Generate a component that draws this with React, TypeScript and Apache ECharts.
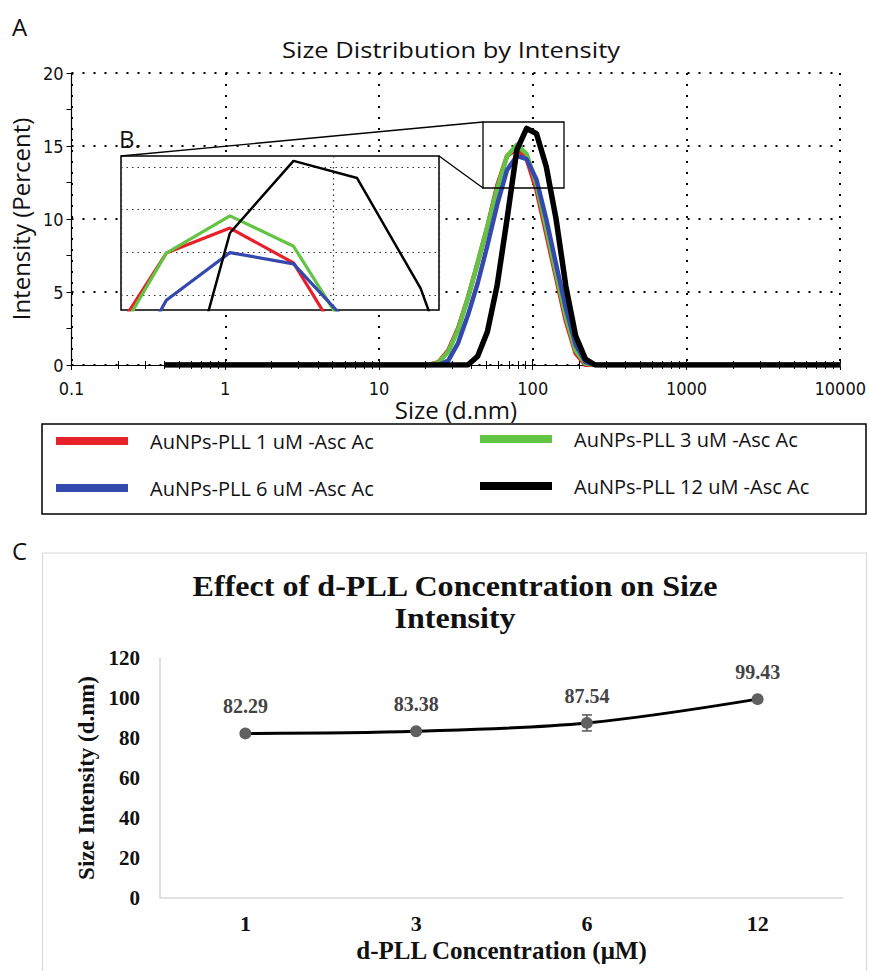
import React, { useEffect, useRef } from "react";
import * as echarts from "echarts";

// ---- Panel A: DLS size distribution (Zetasizer size bins, d.nm) ----
const sizes = [0.4, 21.04, 24.36, 28.21, 32.67, 37.84, 43.82, 50.75, 58.77, 68.06, 78.82, 91.28, 105.7, 122.4, 141.8, 164.2, 190.1, 220.2, 255.0, 295.3, 10000];
const pll1 = [0, 0, 0.2, 1.0, 2.5, 4.6, 7.0, 9.5, 12.3, 14.32, 14.83, 14.12, 12.0, 9.0, 6.0, 3.0, 0.8, 0, 0, 0, 0];
const pll3 = [0, 0, 0.15, 0.9, 2.4, 4.6, 7.0, 9.5, 12.1, 14.32, 15.08, 14.46, 12.4, 9.4, 6.3, 3.3, 1.0, 0.1, 0, 0, 0];
const pll6 = [0, 0, 0, 0.3, 1.5, 3.4, 5.6, 8.2, 11.0, 13.36, 14.33, 14.1, 12.7, 10.0, 6.9, 3.9, 1.4, 0.2, 0, 0, 0];
const pll12 = [0, 0, 0, 0, 0, 0, 0.6, 2.3, 5.5, 10.0, 14.73, 16.2, 15.85, 13.6, 10.0, 5.4, 2.0, 0.4, 0, 0, 0];
const seriesNames = ["AuNPs-PLL 1 uM -Asc Ac", "AuNPs-PLL 3 uM -Asc Ac", "AuNPs-PLL 6 uM -Asc Ac", "AuNPs-PLL 12 uM -Asc Ac"];
const seriesColors = ["#e8202a", "#62c443", "#3449ad", "#000000"];
const xTickValues = [0.1, 1, 10, 100, 1000, 10000];
const minorMultipliers = [2, 3, 4, 5, 6, 7, 8, 9];
const insetGridValues = [13.46, 14.33, 15.22, 16.08];

// ---- Panel C: effect of d-PLL concentration ----
const concCategories = ["1", "3", "6", "12"];
const sizeIntensity = [82.29, 83.38, 87.54, 99.43];
const sizeError = [1.0, 1.0, 4.0, 1.0];

const narrow = "'Liberation Sans Narrow', 'DejaVu Sans Condensed', 'Roboto Condensed', 'Roboto', sans-serif";
const sans = "'Open Sans', 'Noto Sans', sans-serif";
const serif = "'Liberation Serif', 'Times New Roman', serif";

export default function App() {
  const ref = useRef<HTMLDivElement>(null);
  useEffect(() => {
    document.body.style.margin = "0";
    const chart = echarts.init(ref.current!, undefined, { renderer: "svg" });
    const allSets = [pll1, pll3, pll6, pll12];
    const pairs = (vals: number[]) => sizes.map((s, i) => [s, vals[i]]);
    const minorTicks: number[] = [];
    xTickValues.slice(0, -1).forEach((d) => minorMultipliers.forEach((m) => minorTicks.push(+(d * m).toPrecision(3))));

    const mainSeries = allSets.map((vals, i) => ({
      name: seriesNames[i],
      type: "line",
      xAxisIndex: 0,
      yAxisIndex: 0,
      data: pairs(vals),
      showSymbol: false,
      symbol: "none",
      z: 2 + i * 0.1,
      lineStyle: { color: seriesColors[i], width: i === 3 ? 5.5 : 4.5, join: "round" },
      itemStyle: { color: seriesColors[i] },
    }));
    const insetSeries = allSets.map((vals, i) => ({
      name: seriesNames[i],
      type: "line",
      xAxisIndex: 1,
      yAxisIndex: 1,
      data: pairs(vals),
      showSymbol: false,
      symbol: "none",
      clip: true,
      z: 6 + i * 0.1,
      lineStyle: { color: seriesColors[i], width: i === 3 ? 2.5 : 3.2 },
      itemStyle: { color: seriesColors[i] },
    }));

    const legendPos = [
      { left: 56, top: 431 },
      { left: 480, top: 429 },
      { left: 56, top: 478 },
      { left: 480, top: 476 },
    ];
    const legends = seriesNames.map((n, i) => ({
      data: [n],
      left: legendPos[i].left,
      top: legendPos[i].top,
      padding: 0,
      icon: "rect",
      itemWidth: 72,
      itemHeight: 8,
      selectedMode: false,
      textStyle: { fontFamily: sans, fontSize: 20, color: "#111", padding: [0, 0, 0, 17] },
    }));

    const tickAxis = (inside: boolean, values: number[]) => ({
      type: "log", gridIndex: 0, min: 0.1, max: 10000, logBase: 10, position: "bottom",
      axisLine: { show: false },
      axisTick: { show: true, inside, length: 4, customValues: values, lineStyle: { color: "#000" } },
      axisLabel: { show: false, customValues: values },
      splitLine: { show: false },
    });

    const option: any = {
      animation: false,
      backgroundColor: "#fff",
      legend: legends,
      grid: [
        { left: 68, top: 73, width: 775, height: 292 },
        { left: 121, top: 156, width: 318, height: 154, show: true, backgroundColor: "#fff", borderColor: "#000", borderWidth: 1.5, z: 4 },
        { left: 160, top: 658, width: 683, height: 240 },
      ],
      xAxis: [
        {
          type: "log", gridIndex: 0, min: 0.1, max: 10000, logBase: 10, position: "bottom",
          name: "Size (d.nm)", nameLocation: "middle", nameGap: 18,
          nameTextStyle: { fontFamily: sans, fontSize: 24, color: "#111" },
          axisLine: { lineStyle: { color: "#000", width: 1.2 } },
          axisTick: { show: true, length: 5, lineStyle: { color: "#000" } },
          axisLabel: { fontFamily: narrow, fontSize: 18, color: "#111", margin: 14, formatter: (v: number) => (xTickValues.includes(v) ? String(v) : "") },
          splitLine: { show: true, lineStyle: { color: "#000", width: 2, type: [2, 9] } },
        },
        {
          type: "log", gridIndex: 1, min: 61.3, max: 127.7, logBase: 10, z: 5,
          axisLine: { show: false }, axisTick: { show: false }, axisLabel: { show: false },
          splitLine: { show: true, lineStyle: { color: "#333", width: 1.2, type: [1.5, 4] } },
        },
        {
          type: "category", gridIndex: 2, data: concCategories, boundaryGap: true,
          name: "d-PLL Concentration (\u03bcM)", nameLocation: "middle", nameGap: 40,
          nameTextStyle: { fontFamily: serif, fontWeight: "bold", fontSize: 25, color: "#111" },
          axisLine: { lineStyle: { color: "#d9d9d9", width: 1.5 } },
          axisTick: { show: false },
          axisLabel: { fontFamily: serif, fontWeight: "bold", fontSize: 22, color: "#111", margin: 14 },
        },
        tickAxis(false, minorTicks),
        tickAxis(true, [...minorTicks, ...xTickValues]),
      ],
      yAxis: [
        {
          type: "value", gridIndex: 0, min: 0, max: 20, interval: 5,
          name: "Intensity (Percent)", nameLocation: "middle", nameGap: 32,
          nameTextStyle: { fontFamily: sans, fontSize: 24, color: "#111" },
          axisLine: { show: true, lineStyle: { color: "#000", width: 1.2 } },
          axisTick: { show: true, length: 5, lineStyle: { color: "#000" } },
          minorTick: { show: true, splitNumber: 2, length: 5, lineStyle: { color: "#000" } },
          axisLabel: { fontFamily: narrow, fontSize: 18, color: "#111", margin: 8 },
          splitLine: { show: true, lineStyle: { color: "#000", width: 2, type: [2, 9] } },
        },
        {
          type: "value", gridIndex: 1, min: 13.16, max: 16.3, z: 5,
          axisLine: { show: false },
          axisTick: { show: false, customValues: insetGridValues },
          axisLabel: { show: false, customValues: insetGridValues },
          splitLine: { show: true, lineStyle: { color: "#333", width: 1.2, type: [1.5, 4] } },
        },
        {
          type: "value", gridIndex: 2, min: 0, max: 120, interval: 20,
          name: "Size Intensity (d.nm)", nameLocation: "middle", nameGap: 60,
          nameTextStyle: { fontFamily: serif, fontWeight: "bold", fontSize: 23, color: "#111" },
          axisLine: { show: true, lineStyle: { color: "#d9d9d9", width: 1.5 } },
          axisTick: { show: false },
          axisLabel: { fontFamily: serif, fontWeight: "bold", fontSize: 21, color: "#111", margin: 20 },
          splitLine: { show: false },
        },
      ],
      series: [
        ...mainSeries,
        ...insetSeries,
        {
          type: "custom",
          xAxisIndex: 2,
          yAxisIndex: 2,
          z: 3,
          data: sizeIntensity.map((v, i) => [i, v, sizeError[i]]),
          renderItem: (params: any, api: any) => {
            const x = api.value(0);
            const y = api.value(1);
            const e = api.value(2);
            const top = api.coord([x, y + e]);
            const bot = api.coord([x, y - e]);
            const hw = 5;
            const st = { stroke: "#555", lineWidth: 1.5 };
            return {
              type: "group",
              children: [
                { type: "line", shape: { x1: top[0], y1: top[1], x2: bot[0], y2: bot[1] }, style: st },
                { type: "line", shape: { x1: top[0] - hw, y1: top[1], x2: top[0] + hw, y2: top[1] }, style: st },
                { type: "line", shape: { x1: bot[0] - hw, y1: bot[1], x2: bot[0] + hw, y2: bot[1] }, style: st },
              ],
            };
          },
        },
        {
          type: "line",
          xAxisIndex: 2,
          yAxisIndex: 2,
          data: sizeIntensity,
          smooth: 0.35,
          z: 4,
          symbol: "circle",
          symbolSize: 12,
          lineStyle: { color: "#000", width: 3 },
          itemStyle: { color: "#606060" },
          label: {
            show: true, position: "top", distance: 11,
            fontFamily: serif, fontWeight: "bold", fontSize: 20, color: "#444",
            formatter: (p: any) => p.value.toFixed(2),
          },
        },
      ],
      graphic: [
        { type: "text", left: 12, top: 14, style: { text: "A", fontFamily: sans, fontSize: 24, fill: "#111" } },
        { type: "text", x: 451, y: 50, scaleX: 1.16, style: { text: "Size Distribution by Intensity", fontFamily: sans, fontSize: 22, fill: "#111", textAlign: "center", textVerticalAlign: "middle" } },
        { type: "text", x: 119, y: 138, style: { text: "B.", fontFamily: sans, fontSize: 24, fill: "#111", textVerticalAlign: "middle" } },
        { type: "rect", shape: { x: 483, y: 122, width: 81, height: 66 }, style: { fill: "none", stroke: "#000", lineWidth: 1.3 }, z: 20 },
        { type: "line", shape: { x1: 121, y1: 156, x2: 483, y2: 122 }, style: { stroke: "#000", lineWidth: 1.3 }, z: 20 },
        { type: "line", shape: { x1: 439, y1: 156, x2: 483, y2: 188 }, style: { stroke: "#000", lineWidth: 1.3 }, z: 20 },
        { type: "rect", shape: { x: 42, y: 424, width: 824, height: 90 }, style: { fill: "none", stroke: "#000", lineWidth: 1.5 }, z: 1 },
        { type: "text", left: 12, top: 538, style: { text: "C", fontFamily: sans, fontSize: 24, fill: "#111" } },
        { type: "rect", shape: { x: 42.5, y: 553, width: 824, height: 430 }, style: { fill: "none", stroke: "#d9d9d9", lineWidth: 1.2 }, z: 0 },
        { type: "text", x: 455, y: 586, scaleX: 1.07, style: { text: "Effect of d-PLL Concentration on Size", fontFamily: serif, fontWeight: "bold", fontSize: 30, fill: "#111", textAlign: "center", textVerticalAlign: "middle" } },
        { type: "text", x: 455, y: 618, scaleX: 1.07, style: { text: "Intensity", fontFamily: serif, fontWeight: "bold", fontSize: 30, fill: "#111", textAlign: "center", textVerticalAlign: "middle" } },
      ],
    };
    chart.setOption(option);
    return () => chart.dispose();
  }, []);
  return <div ref={ref} style={{ width: 869, height: 971 }} />;
}
